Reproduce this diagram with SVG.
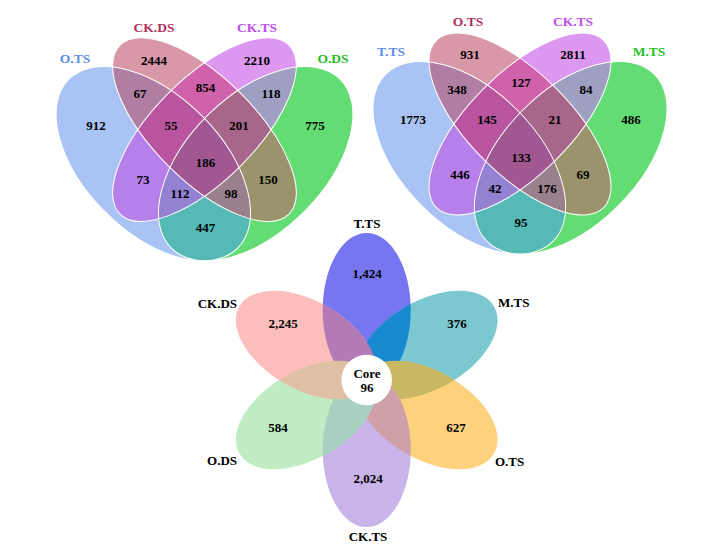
<svg xmlns="http://www.w3.org/2000/svg" xmlns:xlink="http://www.w3.org/1999/xlink" width="723" height="555" viewBox="0 0 723 555">
<style>
text{font-family:"Liberation Serif","Times New Roman",serif;font-weight:bold;text-anchor:middle}
.n{font-size:13px;fill:#000}
.lb{font-size:13.5px}
.fl{font-size:13px;fill:#000}
.ol{fill:none;stroke:#fff;stroke-width:1}
</style>
<defs>
<!-- venn 1 -->
<ellipse id="v1A" cx="153.3" cy="163.7" rx="119.4" ry="68.2" transform="rotate(45 153.3 163.7)"/>
<ellipse id="v1B" cx="204.5" cy="129.6" rx="119.4" ry="51.2" transform="rotate(45 204.5 129.6)"/>
<ellipse id="v1C" cx="204.5" cy="129.6" rx="119.4" ry="51.2" transform="rotate(-45 204.5 129.6)"/>
<ellipse id="v1D" cx="255.7" cy="163.7" rx="119.4" ry="68.2" transform="rotate(-45 255.7 163.7)"/>
<clipPath id="c1A"><use xlink:href="#v1A"/></clipPath>
<clipPath id="c1B"><use xlink:href="#v1B"/></clipPath>
<clipPath id="c1C"><use xlink:href="#v1C"/></clipPath>
<!-- venn 2 -->
<ellipse id="v2A" cx="469.3" cy="157.8" rx="118.3" ry="67.6" transform="rotate(45 469.3 157.8)"/>
<ellipse id="v2B" cx="520" cy="124" rx="118.3" ry="50.7" transform="rotate(45 520 124)"/>
<ellipse id="v2C" cx="520" cy="124" rx="118.3" ry="50.7" transform="rotate(-45 520 124)"/>
<ellipse id="v2D" cx="570.7" cy="157.8" rx="118.3" ry="67.6" transform="rotate(-45 570.7 157.8)"/>
<clipPath id="c2A"><use xlink:href="#v2A"/></clipPath>
<clipPath id="c2B"><use xlink:href="#v2B"/></clipPath>
<clipPath id="c2C"><use xlink:href="#v2C"/></clipPath>
<!-- flower petals -->
<ellipse id="pT" cx="0" cy="0" rx="77" ry="44" transform="translate(366.7 380) rotate(-90) translate(70 0)"/>
<ellipse id="pM" cx="0" cy="0" rx="77" ry="44" transform="translate(366.7 380) rotate(-30) translate(70 0)"/>
<ellipse id="pO" cx="0" cy="0" rx="77" ry="44" transform="translate(366.7 380) rotate(30) translate(70 0)"/>
<ellipse id="pC" cx="0" cy="0" rx="77" ry="44" transform="translate(366.7 380) rotate(90) translate(70 0)"/>
<ellipse id="pD" cx="0" cy="0" rx="77" ry="44" transform="translate(366.7 380) rotate(150) translate(70 0)"/>
<ellipse id="pK" cx="0" cy="0" rx="77" ry="44" transform="translate(366.7 380) rotate(210) translate(70 0)"/>
<clipPath id="cpT"><use xlink:href="#pT"/></clipPath>
<clipPath id="cpM"><use xlink:href="#pM"/></clipPath>
<clipPath id="cpO"><use xlink:href="#pO"/></clipPath>
<clipPath id="cpC"><use xlink:href="#pC"/></clipPath>
<clipPath id="cpD"><use xlink:href="#pD"/></clipPath>
<clipPath id="cpK"><use xlink:href="#pK"/></clipPath>
</defs>
<rect width="723" height="555" fill="#fff"/>

<!-- ===== Venn 1 ===== -->
<g id="venn1">
<g id="venn1-regions">
<use xlink:href="#v1A" fill="#a9c4f4"/>
<use xlink:href="#v1B" fill="#d898a8"/>
<use xlink:href="#v1C" fill="#dc98f0"/>
<use xlink:href="#v1D" fill="#64dc74"/>
<g clip-path="url(#c1A)"><use xlink:href="#v1B" fill="#b07ea2"/><use xlink:href="#v1C" fill="#b67fe9"/><use xlink:href="#v1D" fill="#55bab5"/></g>
<g clip-path="url(#c1B)"><use xlink:href="#v1C" fill="#cf62ab"/><use xlink:href="#v1D" fill="#9a936b"/></g>
<g clip-path="url(#c1C)"><use xlink:href="#v1D" fill="#9e9fc1"/></g>
<g clip-path="url(#c1A)"><g clip-path="url(#c1B)"><use xlink:href="#v1C" fill="#b8559e"/><use xlink:href="#v1D" fill="#9a7f8c"/></g><g clip-path="url(#c1C)"><use xlink:href="#v1D" fill="#9481d2"/></g></g>
<g clip-path="url(#c1B)"><g clip-path="url(#c1C)"><use xlink:href="#v1D" fill="#a8668a"/></g></g>
<g clip-path="url(#c1A)"><g clip-path="url(#c1B)"><g clip-path="url(#c1C)"><use xlink:href="#v1D" fill="#a15892"/></g></g></g>
</g>
<g id="v1-OTS"><use xlink:href="#v1A" class="ol"/><text class="lb" x="75" y="63" fill="#5b8ee8">O.TS</text></g>
<g id="v1-CKDS"><use xlink:href="#v1B" class="ol"/><text class="lb" x="154" y="32" fill="#b03060">CK.DS</text></g>
<g id="v1-CKTS"><use xlink:href="#v1C" class="ol"/><text class="lb" x="257" y="32" fill="#c04ee8">CK.TS</text></g>
<g id="v1-ODS"><use xlink:href="#v1D" class="ol"/><text class="lb" x="333" y="63" fill="#22c022">O.DS</text></g>
<g id="v1-counts">
<text class="n" x="154" y="64.5">2444</text>
<text class="n" x="257" y="64.5">2210</text>
<text class="n" x="140" y="97.5">67</text>
<text class="n" x="205.5" y="91.5">854</text>
<text class="n" x="271" y="97.5">118</text>
<text class="n" x="96" y="129.5">912</text>
<text class="n" x="171" y="129.5">55</text>
<text class="n" x="239" y="129.5">201</text>
<text class="n" x="315" y="129.5">775</text>
<text class="n" x="205.5" y="166.5">186</text>
<text class="n" x="143" y="183.5">73</text>
<text class="n" x="268" y="183.5">150</text>
<text class="n" x="180" y="197.5">112</text>
<text class="n" x="231" y="197.5">98</text>
<text class="n" x="205.5" y="231.5">447</text>
</g>
</g>

<!-- ===== Venn 2 ===== -->
<g id="venn2">
<g id="venn2-regions">
<use xlink:href="#v2A" fill="#a9c4f4"/>
<use xlink:href="#v2B" fill="#d898a8"/>
<use xlink:href="#v2C" fill="#dc98f0"/>
<use xlink:href="#v2D" fill="#64dc74"/>
<g clip-path="url(#c2A)"><use xlink:href="#v2B" fill="#b07ea2"/><use xlink:href="#v2C" fill="#b67fe9"/><use xlink:href="#v2D" fill="#55bab5"/></g>
<g clip-path="url(#c2B)"><use xlink:href="#v2C" fill="#cf62ab"/><use xlink:href="#v2D" fill="#9a936b"/></g>
<g clip-path="url(#c2C)"><use xlink:href="#v2D" fill="#9e9fc1"/></g>
<g clip-path="url(#c2A)"><g clip-path="url(#c2B)"><use xlink:href="#v2C" fill="#b8559e"/><use xlink:href="#v2D" fill="#9a7f8c"/></g><g clip-path="url(#c2C)"><use xlink:href="#v2D" fill="#9481d2"/></g></g>
<g clip-path="url(#c2B)"><g clip-path="url(#c2C)"><use xlink:href="#v2D" fill="#a8668a"/></g></g>
<g clip-path="url(#c2A)"><g clip-path="url(#c2B)"><g clip-path="url(#c2C)"><use xlink:href="#v2D" fill="#a15892"/></g></g></g>
</g>
<g id="v2-TTS"><use xlink:href="#v2A" class="ol"/><text class="lb" x="391" y="56" fill="#5b8ee8">T.TS</text></g>
<g id="v2-OTS"><use xlink:href="#v2B" class="ol"/><text class="lb" x="468" y="26" fill="#b03060">O.TS</text></g>
<g id="v2-CKTS"><use xlink:href="#v2C" class="ol"/><text class="lb" x="573" y="26" fill="#c04ee8">CK.TS</text></g>
<g id="v2-MTS"><use xlink:href="#v2D" class="ol"/><text class="lb" x="649" y="56" fill="#22c022">M.TS</text></g>
<g id="v2-counts">
<text class="n" x="470" y="58.5">931</text>
<text class="n" x="573" y="58.5">2811</text>
<text class="n" x="457" y="93.5">348</text>
<text class="n" x="521" y="86.5">127</text>
<text class="n" x="586" y="93.5">84</text>
<text class="n" x="413" y="123.5">1773</text>
<text class="n" x="487" y="123.5">145</text>
<text class="n" x="555" y="123.5">21</text>
<text class="n" x="631" y="123.5">486</text>
<text class="n" x="521" y="161.5">133</text>
<text class="n" x="460" y="178.5">446</text>
<text class="n" x="583" y="178.5">69</text>
<text class="n" x="495" y="192.5">42</text>
<text class="n" x="547" y="192.5">176</text>
<text class="n" x="521" y="226.5">95</text>
</g>
</g>

<!-- ===== Flower ===== -->
<g id="flower">
<g id="petal-TTS"><use xlink:href="#pT" fill="#7676f0"/></g>
<g id="petal-MTS"><use xlink:href="#pM" fill="#7cc8d0"/></g>
<g id="petal-OTS"><use xlink:href="#pO" fill="#fed27c"/></g>
<g id="petal-CKTS"><use xlink:href="#pC" fill="#c8b4e8"/></g>
<g id="petal-ODS"><use xlink:href="#pD" fill="#c0ecc4"/></g>
<g id="petal-CKDS"><use xlink:href="#pK" fill="#fcbebc"/></g>
<g id="petal-overlaps">
<g clip-path="url(#cpT)"><use xlink:href="#pM" fill="#1888d0"/><use xlink:href="#pK" fill="#b47ab8"/></g>
<g clip-path="url(#cpO)"><use xlink:href="#pM" fill="#c9b863"/><use xlink:href="#pC" fill="#d0a0a8"/></g>
<g clip-path="url(#cpD)"><use xlink:href="#pC" fill="#a8d0c0"/><use xlink:href="#pK" fill="#e0c0a4"/></g>
</g>
<g id="core"><circle cx="366.7" cy="380" r="25.3" fill="#fff"/>
<text class="fl" x="367" y="378">Core</text><text class="fl" x="367" y="391.5">96</text></g>
<g id="flower-labels">
<text class="fl" x="367" y="228">T.TS</text>
<text class="fl" x="237" y="308" style="text-anchor:end">CK.DS</text>
<text class="fl" x="498" y="307" style="text-anchor:start">M.TS</text>
<text class="fl" x="237" y="465" style="text-anchor:end">O.DS</text>
<text class="fl" x="495" y="466" style="text-anchor:start">O.TS</text>
<text class="fl" x="368" y="541">CK.TS</text>
</g>
<g id="flower-counts">
<text class="fl" x="367" y="278">1,424</text>
<text class="fl" x="283" y="328">2,245</text>
<text class="fl" x="457" y="328">376</text>
<text class="fl" x="278" y="432">584</text>
<text class="fl" x="456" y="432">627</text>
<text class="fl" x="368" y="483">2,024</text>
</g>
</g>
</svg>
